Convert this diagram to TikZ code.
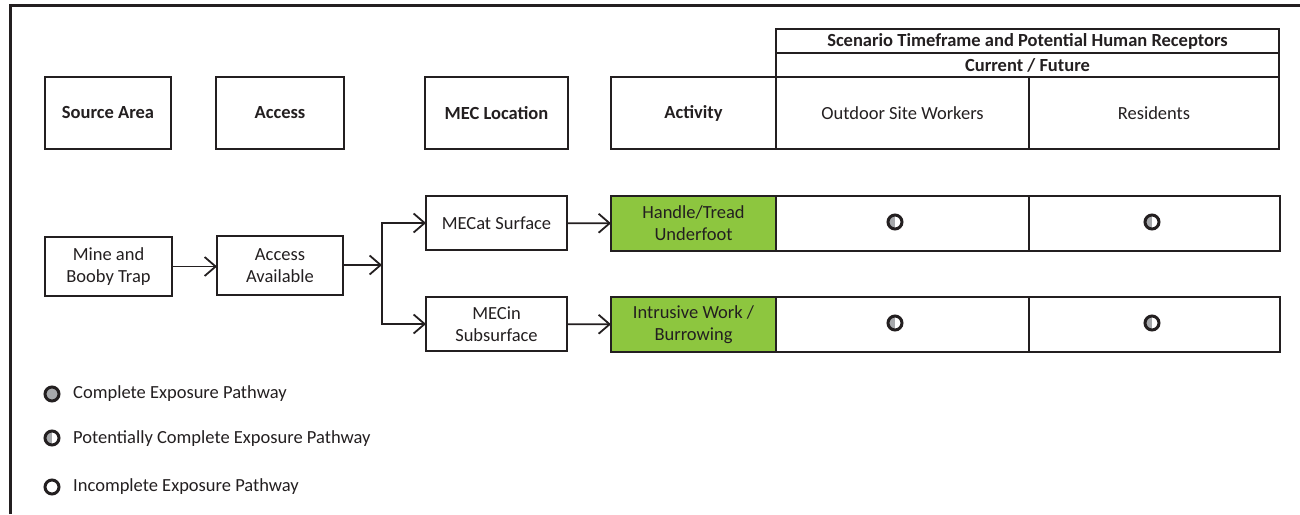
\documentclass[tikz,border=0pt]{standalone}
\usepackage{fontspec}
\setmainfont{Carlito}
\usetikzlibrary{arrows.meta}
\definecolor{ink}{HTML}{231F20}
\definecolor{leaf}{HTML}{8DC63F}
\definecolor{dotgray}{HTML}{A7A9AC}
\begin{document}
\begin{tikzpicture}[x=1pt,y=-1pt,
  box/.style={draw=ink, line width=1.5pt, inner sep=0pt, outer sep=0pt, align=center, text=ink, font=\fontsize{18.5}{22}\selectfont},
  hdr/.style={box, line width=2pt, font=\fontsize{18.5}{22}\selectfont\bfseries},
  thdr/.style={box, line width=2pt, font=\fontsize{18.5}{22}\selectfont\bfseries},
  green/.style={box, fill=leaf},
  arr/.style={draw=ink, line width=1.8pt, -{Straight Barb[length=11pt,width=19pt]}},
  dot/.style={circle, draw=ink, line width=3pt, minimum size=14pt, inner sep=0pt, fill=white},
  halfdot/.style={dot, path picture={\fill[dotgray] (path picture bounding box.north west) rectangle (path picture bounding box.south);}},
  fulldot/.style={dot, fill=dotgray},
  legend/.style={anchor=west, inner sep=0pt, text=ink, font=\fontsize{18.5}{22}\selectfont}
]
\useasboundingbox (0,0) rectangle (1300,514);
% outer frame
\draw[ink, line width=3pt] (10,514) -- (10,5) -- (1300,5);

% header boxes
\node[hdr, minimum width=126pt, minimum height=72pt] (sa) at (108,113) {Source Area};
\node[hdr, minimum width=128pt, minimum height=72pt] (ac) at (280,113) {Access};
\node[hdr, minimum width=143pt, minimum height=72pt] (ml) at (496.5,113) {MEC Location};
\node[hdr, minimum width=165pt, minimum height=72pt] (act) at (693.5,113) {Activity};

% table header
\node[thdr, minimum width=503pt, minimum height=24pt] (scen) at (1027.5,41) {Scenario Timeframe and Potential Human Receptors};
\node[thdr, minimum width=503pt, minimum height=24pt] (cf) at (1027.5,65) {Current / Future};
\node[box, line width=2pt, minimum width=253pt, minimum height=72pt] (osw) at (902.5,113) {Outdoor Site Workers};
\node[box, line width=2pt, minimum width=250pt, minimum height=72pt] (res) at (1154,113) {Residents};

% flow boxes
\node[box, minimum width=127pt, minimum height=59pt] (mine) at (108.5,266.5) {Mine and\\Booby Trap};
\node[box, minimum width=126pt, minimum height=59pt] (avail) at (280,265.5) {Access\\Available};
\node[box, minimum width=141pt, minimum height=54pt] (surf) at (496.5,223) {MECat Surface};
\node[box, minimum width=141pt, minimum height=54pt] (sub) at (496.5,324) {MECin\\Subsurface};
\node[green, line width=2pt, minimum width=165pt, minimum height=55pt] (hand) at (693.5,223.5) {Handle/Tread\\Underfoot};
\node[green, line width=2pt, minimum width=165pt, minimum height=55pt] (intr) at (693.5,324.5) {Intrusive Work /\\Burrowing};

% receptor cells
\node[box, line width=2pt, minimum width=253pt, minimum height=55pt] (c11) at (902.5,223.5) {};
\node[box, line width=2pt, minimum width=251pt, minimum height=55pt] (c12) at (1154.5,223.5) {};
\node[box, line width=2pt, minimum width=253pt, minimum height=55pt] (c21) at (902.5,324.5) {};
\node[box, line width=2pt, minimum width=251pt, minimum height=55pt] (c22) at (1154.5,324.5) {};

\node[halfdot] (d11) at (895,222) {};
\node[halfdot] (d12) at (1152,222) {};
\node[halfdot] (d21) at (895,323) {};
\node[halfdot] (d22) at (1152,323) {};

% connectors
\coordinate (br) at (382,265);
\draw[arr] (mine.east) -- (mine.east -| avail.west);
\draw[arr] (avail.east |- br) -- (br);
\draw[arr] (br) |- (surf.west);
\draw[arr] (br) |- (sub.west);
\draw[arr] (surf) -- (hand);
\draw[arr] (sub) -- (intr);

% legend
\node[fulldot] (lg1) at (52,394) {};
\node[legend] (lt1) at (73,394) {Complete Exposure Pathway};
\node[halfdot] (lg2) at (52,438) {};
\node[legend] (lt2) at (73,439) {Potentially Complete Exposure Pathway};
\node[dot] (lg3) at (52,487) {};
\node[legend] (lt3) at (73,487) {Incomplete Exposure Pathway};
\end{tikzpicture}
\end{document}
